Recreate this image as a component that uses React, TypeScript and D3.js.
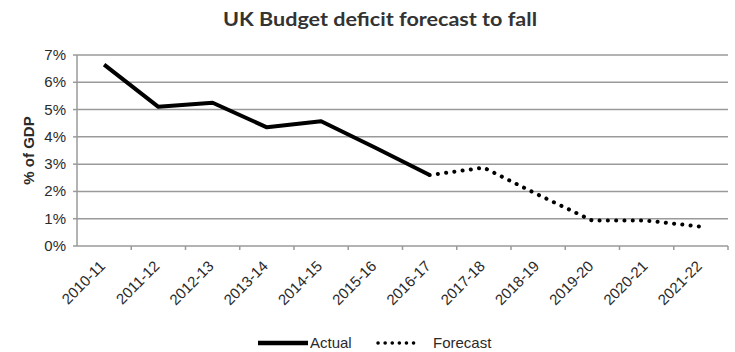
import React from "react";
import * as d3 from "d3";

const categories = ["2010-11","2011-12","2012-13","2013-14","2014-15","2015-16","2016-17","2017-18","2018-19","2019-20","2020-21","2021-22"];
const actualValues = [6.65, 5.1, 5.25, 4.35, 4.57, 3.6, 2.6];
const forecastValues = [2.6, 2.87, 1.88, 0.93, 0.93, 0.71];
const forecastStart = 6;
const yTicks = [0, 1, 2, 3, 4, 5, 6, 7];

const W = 735, H = 352;
const margin = { left: 77, right: 7, top: 55, bottom: 106 };

export default function App() {
  const x = d3.scaleBand<string>().domain(categories).range([margin.left, W - margin.right]).paddingInner(0).paddingOuter(0);
  const y = d3.scaleLinear().domain([0, 7]).range([H - margin.bottom, margin.top]);
  const cx = (c: string) => (x(c) as number) + x.bandwidth() / 2;

  const line = d3.line<[string, number]>().x(d => cx(d[0])).y(d => y(d[1]));
  const actualPts: [string, number][] = actualValues.map((v, i) => [categories[i], v]);
  const forecastPts: [string, number][] = forecastValues.map((v, i) => [categories[i + forecastStart], v]);

  const x0 = margin.left, x1 = W - margin.right, yb = y(0);
  const grid = "#9a9a9a";
  const txt = "#2a2a2a";

  return (
    <svg width={W} height={H} style={{ position: "absolute", left: 0, top: 0, background: "#fff" }}>
      <text x={380} y={26} textAnchor="middle" fontFamily="Lato, 'Open Sans', sans-serif" fontWeight={700} fontSize={19} fill="#333" textLength={314} lengthAdjust="spacingAndGlyphs">UK Budget deficit forecast to fall</text>

      {yTicks.map(t => (
        <g key={t}>
          {t > 0 && <line x1={x0} x2={x1} y1={y(t)} y2={y(t)} stroke={grid} strokeWidth={1.5} />}
          <line x1={x0 - 4} x2={x0} y1={y(t)} y2={y(t)} stroke={grid} strokeWidth={1.5} />
          <text x={66} y={y(t) + 5} textAnchor="end" fontFamily="'Liberation Sans', Arial, sans-serif" fontSize={15} fill={txt}>{t}%</text>
        </g>
      ))}
      <line x1={x0} x2={x0} y1={y(7)} y2={yb} stroke={grid} strokeWidth={1.5} />
      <line x1={x0} x2={x1} y1={yb} y2={yb} stroke={grid} strokeWidth={1.5} />
      {categories.map((c, i) => (
        <line key={"t" + i} x1={(x(c) as number) + x.bandwidth()} x2={(x(c) as number) + x.bandwidth()} y1={yb} y2={yb + 4} stroke={grid} strokeWidth={1.5} />
      ))}
      {categories.map(c => (
        <text key={c} transform={`translate(${cx(c) + 2},${yb + 21}) rotate(-45)`} textAnchor="end" fontFamily="'Liberation Sans', Arial, sans-serif" fontSize={15} fill={txt}>{c}</text>
      ))}

      <text transform={`translate(34,${(y(7) + yb) / 2}) rotate(-90)`} textAnchor="middle" fontFamily="'Liberation Sans', Arial, sans-serif" fontWeight={700} fontSize={15} fill={txt}>% of GDP</text>

      <path d={line(actualPts) || ""} fill="none" stroke="#000" strokeWidth={4} strokeLinejoin="round" />
      <path d={line(forecastPts) || ""} fill="none" stroke="#000" strokeWidth={4} strokeLinecap="round" strokeDasharray="0.1 8.2" />

      <line x1={258} x2={308} y1={343} y2={343} stroke="#000" strokeWidth={4.5} />
      <text x={310} y={348} fontFamily="'Liberation Sans', Arial, sans-serif" fontSize={15} fill={txt}>Actual</text>
      <line x1={378} x2={414} y1={343} y2={343} stroke="#000" strokeWidth={3.5} strokeLinecap="round" strokeDasharray="0.1 7" />
      <text x={433} y={348} fontFamily="'Liberation Sans', Arial, sans-serif" fontSize={15} fill={txt}>Forecast</text>
    </svg>
  );
}
